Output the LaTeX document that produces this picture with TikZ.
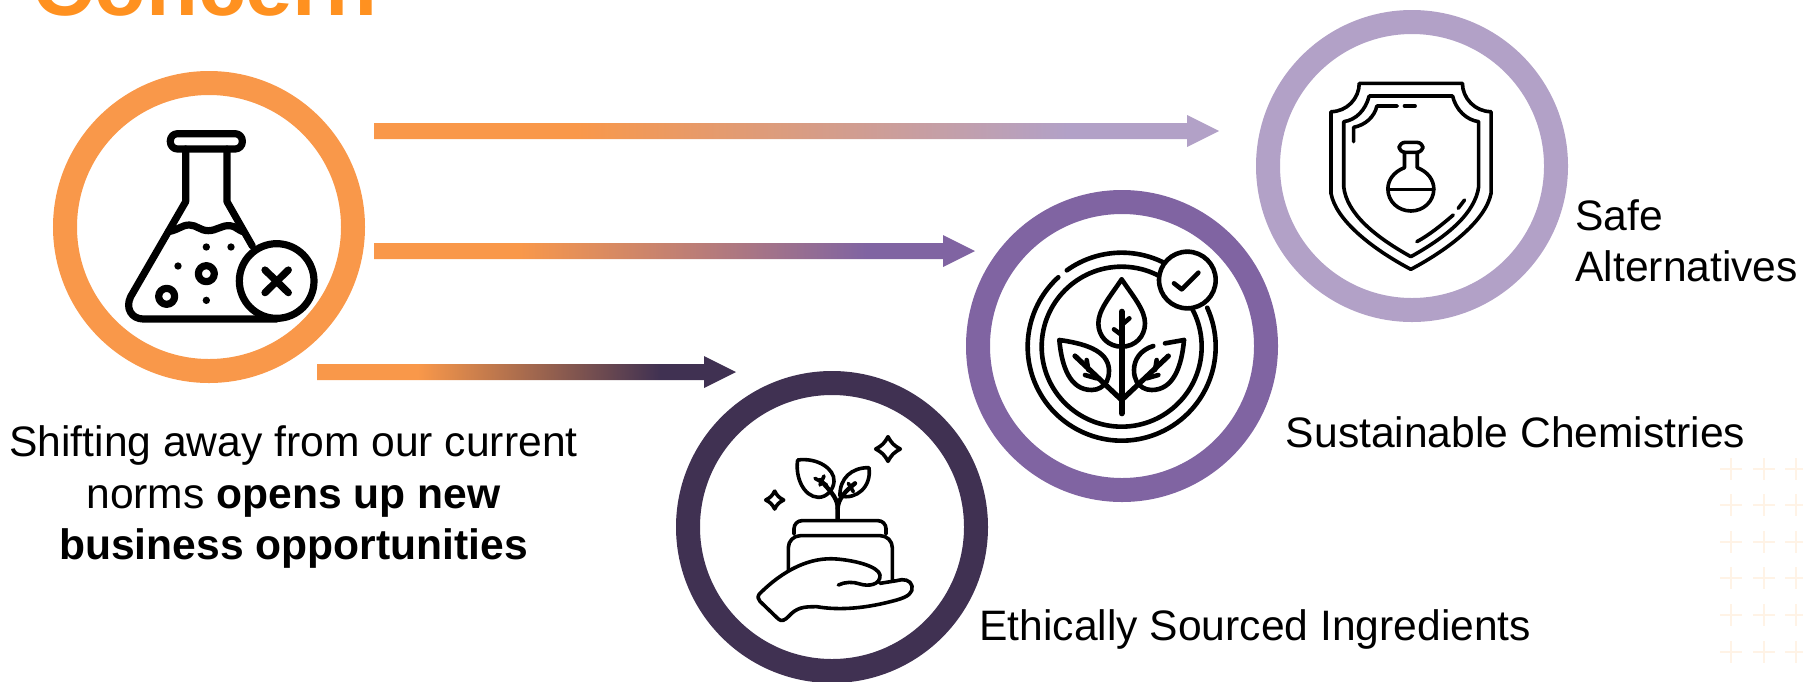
\documentclass[tikz,border=0pt]{standalone}
\usepackage{fontspec}
\setmainfont{Liberation Sans}
\usetikzlibrary{calc}
\definecolor{ringorange}{HTML}{F9984A}
\definecolor{titleorange}{HTML}{FF9120}
\definecolor{ringlight}{HTML}{B2A1C7}
\definecolor{ringmid}{HTML}{8064A2}
\definecolor{ringdark}{HTML}{403152}
\definecolor{plusfaint}{HTML}{FFF3E6}
\pgfdeclarehorizontalshading{fadelight}{100bp}{color(0bp)=(ringorange); color(37bp)=(ringorange); color(66bp)=(ringlight); color(100bp)=(ringlight)}
\pgfdeclarehorizontalshading{fademid}{100bp}{color(0bp)=(ringorange); color(37bp)=(ringorange); color(66bp)=(ringmid); color(100bp)=(ringmid)}
\pgfdeclarehorizontalshading{fadedark}{100bp}{color(0bp)=(ringorange); color(37bp)=(ringorange); color(66bp)=(ringdark); color(100bp)=(ringdark)}
\tikzset{
  ring/.style={circle,draw=#1,line width=12pt,minimum size=144pt,inner sep=0pt},
  bodytext/.style={inner sep=0pt,font=\fontsize{21.3}{25.7}\selectfont},
  iconthick/.style={line width=3.6pt,line cap=round,line join=round},
  iconmid/.style={line width=2.3pt,line cap=round,line join=round},
  iconthin/.style={line width=1.8pt,line cap=round,line join=round}
}
\newcommand{\gradarrow}[3]{
  \shade[shading=#3] ($(#1)+(0,-8)$) -- ($(#2)+(-32,-8)$) -- ($(#2)+(-32,-16)$) -- (#2) -- ($(#2)+(-32,16)$) -- ($(#2)+(-32,8)$) -- ($(#1)+(0,8)$) -- cycle;
}
\begin{document}
\begin{tikzpicture}[x=0.5pt,y=-0.5pt]
\useasboundingbox (0,0) rectangle (1803,681);
\clip (0,0) rectangle (1803,681);

\foreach \py in {469,505,542,578,615,652}
  \foreach \px in {1731,1764,1796}{
    \draw[plusfaint,line width=0.8pt] (\px-11,\py)--(\px+11,\py);
    \draw[plusfaint,line width=0.8pt] (\px,\py-11)--(\px,\py+11);
  }

\node[anchor=base west,inner sep=0pt,text=titleorange,font=\fontsize{42.5}{46}\selectfont\bfseries] (title) at (32.5,15.3) {Concern};

\node[ring=ringorange] (flaskring) at (209,227) {};
\node[ring=ringlight] (shieldring) at (1412,166) {};
\node[ring=ringmid] (plantring) at (1122,346) {};
\node[ring=ringdark] (handring) at (832,527) {};

\coordinate (shieldout) at (374,131);
\coordinate (shieldin) at (1219,131);
\coordinate (plantout) at (374,251);
\coordinate (plantin) at (975,251);
\coordinate (handout) at (317,372);
\coordinate (handin) at (736,372);
\gradarrow{shieldout}{shieldin}{fadelight}
\gradarrow{plantout}{plantin}{fademid}
\gradarrow{handout}{handin}{fadedark}

\node[bodytext,align=center] (shifttext) at (293.5,497) {Shifting away from our current\\norms \textbf{opens up new}\\\textbf{business opportunities}};
\node[bodytext,align=left,anchor=west] (safetext) at (1575,241) {Safe\\Alternatives};
\node[bodytext,anchor=base west] (sustaintext) at (1285.5,447) {Sustainable Chemistries};
\node[bodytext,anchor=base west] (ethictext) at (979,640) {Ethically Sourced Ingredients};

\begin{scope}[scale=1/3,iconthick]
\draw[rounded corners=3.6pt] (511,401) rectangle (727,447);
\draw (557,447)--(557,605)--(392,890) .. controls (375,925) and (395,957) .. (430,957)--(830,957);
\draw (681,447)--(681,605)--(757,738);
\draw (505,695) .. controls (535,690) and (545,675) .. (568,675) .. controls (590,675) and (600,692) .. (625,692) .. controls (650,692) and (665,675) .. (690,677) .. controls (705,678) and (715,690) .. (728,695);
\fill (619,741) circle (11);
\fill (693,741) circle (11);
\fill (534,798) circle (11);
\fill (619,901) circle (11);
\draw (619,821) circle (24);
\draw (500,889) circle (24);
\draw[fill=white] (830,843) circle (112);
\draw (795,810)--(865,878);
\draw (865,810)--(795,878);
\end{scope}

\begin{scope}[shift={(1249,0)},xscale=1/2.83,yscale=1/3,iconthin]
\draw (312,250)--(604,250) .. controls (604,295) and (640,335) .. (685,335)--(685,580) .. controls (670,660) and (570,745) .. (458,808) .. controls (346,745) and (246,660) .. (232,580)--(232,335) .. controls (277,335) and (312,295) .. (312,250);
\draw (340,288)--(576,288) .. controls (586,330) and (615,360) .. (650,365)--(650,560) .. controls (640,640) and (560,710) .. (458,770) .. controls (356,710) and (276,640) .. (268,560)--(268,365) .. controls (303,360) and (330,330) .. (340,288);
\draw (296,425)--(296,382) .. controls (330,375) and (355,350) .. (362,318)--(420,318);
\draw (440,318)--(470,318);
\draw (475,725) .. controls (510,705) and (545,675) .. (578,645);
\draw (592,625)--(610,600);
\draw[rounded corners=3pt] (425,427) rectangle (492,457);
\draw (440,457)--(440,503) .. controls (410,515) and (393,540) .. (393,567) .. controls (393,605) and (423,633) .. (458,633) .. controls (493,633) and (523,605) .. (523,567) .. controls (523,540) and (506,515) .. (476,503)--(476,457);
\draw (393,568)--(523,568);
\end{scope}

\begin{scope}[shift={(960,190)},scale=1/3,iconmid]
\draw (485,470) circle (240);
\draw ($(485,470)+(-125.7:282)$) arc[start angle=-125.7,end angle=-64,radius=282];
\draw ($(485,470)+(-24.5:282)$) arc[start angle=-24.5,end angle=227.6,radius=282];
\draw[fill=white] (682,270) circle (85);
\draw (642,280)--(665,298)--(715,248);
\draw (485,268) .. controls (450,320) and (415,360) .. (415,400) .. controls (415,440) and (445,470) .. (485,470) .. controls (525,470) and (555,440) .. (555,400) .. controls (555,360) and (520,320) .. (485,268);
\draw[line width=3pt] (485,365)--(485,670);
\draw[line width=2.6pt] (345,498)--(485,630)--(625,498);
\draw (485,405)--(508,385);
\draw (485,435)--(462,418);
\draw (298,450) .. controls (370,460) and (445,480) .. (447,540) .. controls (447,555) and (445,565) .. (440,575) .. controls (430,590) and (415,600) .. (395,600) .. controls (330,600) and (305,530) .. (298,450);
\draw (672,450)--(615,460);
\draw (580,468) .. controls (540,480) and (522,510) .. (522,540) .. controls (522,555) and (525,565) .. (530,575) .. controls (540,590) and (555,600) .. (575,600) .. controls (640,600) and (665,530) .. (672,450);
\draw (380,510)--(385,540);
\draw (375,555)--(410,565);
\draw (590,510)--(585,540);
\draw (595,555)--(560,565);
\end{scope}

\begin{scope}[shift={(670,370)},scale=1/3,iconthin]
\draw[rounded corners=4pt] (372,492)--(372,452)--(648,452)--(648,492);
\draw[rounded corners=6pt] (355,600)--(355,497)--(667,497)--(667,630);
\draw (505,645) .. controls (525,635) and (550,635) .. (570,642) .. controls (595,650) and (632,645) .. (630,615) .. controls (625,590) and (560,572) .. (500,567) .. controls (420,560) and (340,600) .. (268,672) .. controls (262,680) and (264,688) .. (270,694)--(325,747) .. controls (335,756) and (345,750) .. (355,740) .. controls (380,712) and (400,710) .. (440,710) .. controls (510,722) and (590,715) .. (680,690) .. controls (715,680) and (730,668) .. (726,648) .. controls (722,630) and (700,625) .. (680,632)--(630,640);
\draw (383,270) .. controls (440,262) and (495,295) .. (492,335) .. controls (490,360) and (470,382) .. (445,382) .. controls (400,380) and (375,320) .. (383,270);
\draw (597,293) .. controls (545,292) and (508,325) .. (510,378) .. controls (560,390) and (605,350) .. (597,293);
\draw[line width=2.2pt] (503,448)--(503,415) .. controls (503,390) and (490,370) .. (450,330);
\draw[line width=2.2pt] (503,415) .. controls (505,385) and (525,365) .. (555,340);
\draw (435,325)--(470,345);
\draw (450,345)--(462,318);
\draw (535,340)--(550,365);
\draw (654,200) .. controls (664,219) and (672,227) .. (691,237) .. controls (672,247) and (664,255) .. (654,274) .. controls (644,255) and (636,247) .. (617,237) .. controls (636,227) and (644,219) .. (654,200);
\draw (314,363) .. controls (321,377) and (327,383) .. (341,390) .. controls (327,397) and (321,403) .. (314,417) .. controls (307,403) and (301,397) .. (287,390) .. controls (301,383) and (307,377) .. (314,363);
\end{scope}
\end{tikzpicture}
\end{document}
